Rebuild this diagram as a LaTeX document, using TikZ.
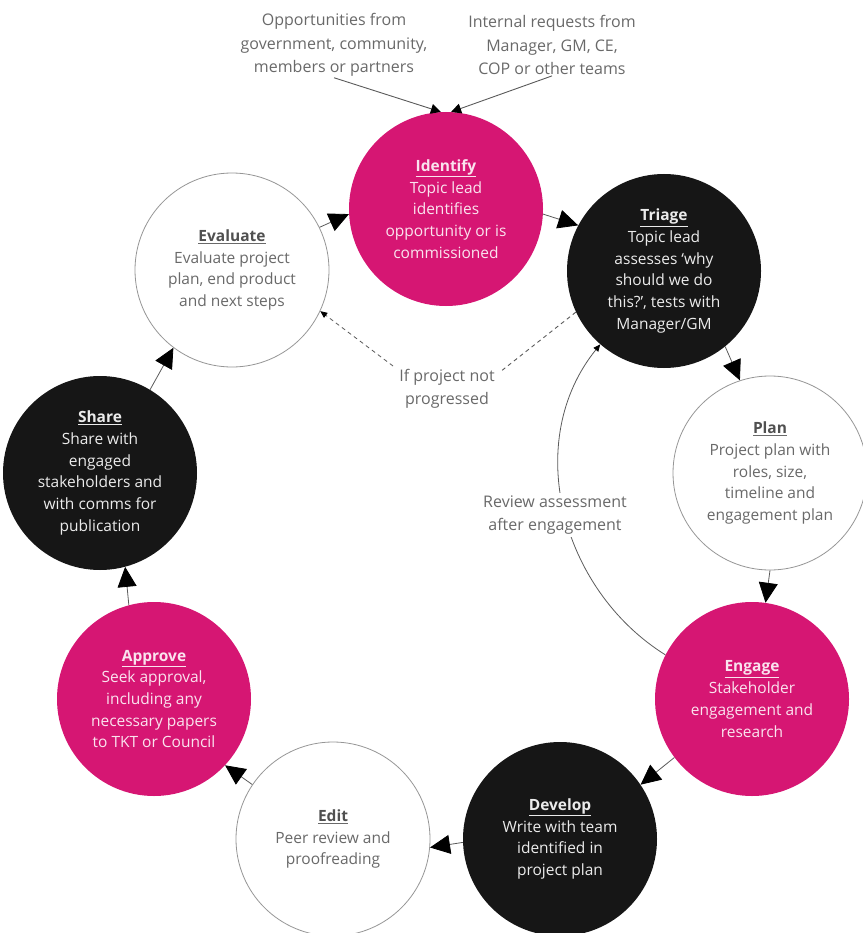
\documentclass[tikz,border=0pt]{standalone}
\usepackage{fontspec}
\setmainfont{Open Sans}
\usetikzlibrary{arrows.meta}
\definecolor{pinkc}{RGB}{214,22,115}
\definecolor{darkc}{RGB}{22,22,22}
\definecolor{linec}{RGB}{90,90,90}
\definecolor{greytext}{RGB}{105,105,105}
\definecolor{titlegrey}{RGB}{80,80,80}
\definecolor{edgec}{RGB}{150,150,150}
\begin{document}
\begin{tikzpicture}[x=1pt,y=-1pt,
  stage/.style={circle, minimum size=194pt, inner sep=0pt, align=center, font=\fontsize{15.5}{21.7}\selectfont},
  pinkstage/.style={stage, fill=pinkc, text=white!88!pinkc},
  darkstage/.style={stage, fill=darkc, text=white!92!black},
  whitestage/.style={stage, draw=edgec, line width=0.8pt, fill=white, text=greytext},
  flow/.style={draw=linec, line width=0.8pt, -{Triangle[length=20pt,width=19pt,color=black]}},
  feed/.style={draw=linec, line width=0.9pt, -{Triangle[length=10pt,width=10pt,color=black]}},
  back/.style={draw=linec, line width=0.8pt, -{Triangle[length=7pt,width=6pt,color=black]}},
  note/.style={align=center, text=greytext, font=\fontsize{16}{23.5}\selectfont, inner sep=1pt},
]
\useasboundingbox (0,0) rectangle (862,933);

% top notes
\node[note] (oppL) at (334,45) {Opportunities from\\government, community,\\members or partners};
\node[note] (oppR) at (552,45) {Internal requests from\\Manager, GM, CE,\\COP or other teams};

% stages
\node[pinkstage] (identify) at (446,209) {\underline{\textbf{Identify}}\\Topic lead\\identifies\\opportunity or is\\commissioned};
\node[darkstage] (triage) at (664,271) {\underline{\textbf{Triage}}\\Topic lead\\assesses `why\\should we do\\this?', tests with\\Manager/GM};
\node[whitestage] (plan) at (770,473) {\underline{\textcolor{titlegrey}{\textbf{Plan}}}\\Project plan with\\roles, size,\\timeline and\\engagement plan};
\node[pinkstage] (engage) at (752,699) {\underline{\textbf{Engage}}\\Stakeholder\\engagement and\\research};
\node[darkstage] (develop) at (560,839) {\underline{\textbf{Develop}}\\Write with team\\identified in\\project plan};
\node[whitestage] (edit) at (333,839) {\underline{\textcolor{titlegrey}{\textbf{Edit}}}\\Peer review and\\proofreading};
\node[pinkstage] (approve) at (154,699) {\underline{\textbf{Approve}}\\Seek approval,\\including any\\necessary papers\\to TKT or Council};
\node[darkstage] (share) at (100,473) {\underline{\textbf{Share}}\\Share with\\engaged\\stakeholders and\\with comms for\\publication};
\node[whitestage] (evaluate) at (232,270) {\underline{\textcolor{titlegrey}{\textbf{Evaluate}}}\\Evaluate project\\plan, end product\\and next steps};

% feeds into identify
\draw[feed] (oppL.south) -- (identify.93);
\draw[feed] (oppR.south) -- (identify.87);

% main cycle
\draw[flow] (identify.-3) -- (triage.152);
\draw[flow] (triage.-51) -- (plan.108);
\draw[flow] (plan.-90) -- (engage.82);
\draw[flow] (engage.217) -- (develop.34);
\draw[flow] (develop.182) -- (edit.-5);
\draw[flow] (edit.146) -- (approve.-43);
\draw[flow] (approve.105) -- (share.-75);
\draw[flow] (share.59) -- (evaluate.233);
\draw[flow] (evaluate.26) -- (identify.183);

% review loop
\draw[back] (engage.153) to[out=148,in=231] (triage.229);
\node[note, fill=white, inner sep=2pt] (review) at (555,515) {Review assessment\\after engagement};

% not progressed
\node[note] (notprog) at (447,389) {If project not\\progressed};
\coordinate (dR) at (500,372);
\coordinate (dL) at (393,366);
\draw[linec, line width=0.9pt, dash pattern=on 4pt off 3.5pt] (triage.205) -- (dR);
\draw[back, dash pattern=on 4pt off 3.5pt] (dL) -- (evaluate.-25);
\end{tikzpicture}
\end{document}
